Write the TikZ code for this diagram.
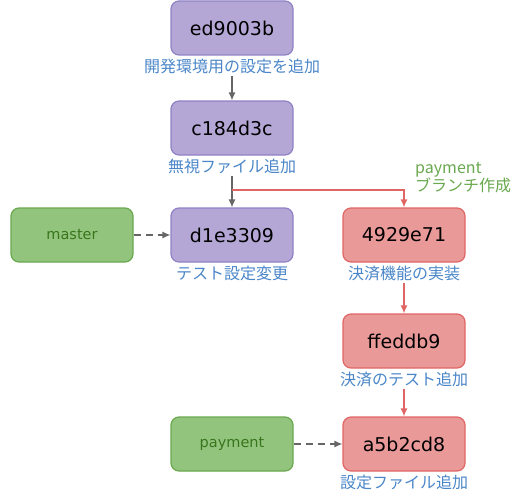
\documentclass[tikz,border=0pt]{standalone}
\usepackage{fontspec}
\usepackage{tikz}
\usetikzlibrary{arrows.meta}
\usetikzlibrary{positioning}
\newfontfamily\jpfont{Noto Sans CJK JP}
\newfontfamily\hashfont{DejaVu Sans}
\definecolor{commitfill}{HTML}{B4A7D6}
\definecolor{commitline}{HTML}{9081C4}
\definecolor{payfill}{HTML}{EA9999}
\definecolor{payline}{HTML}{E06666}
\definecolor{reffill}{HTML}{93C47D}
\definecolor{refline}{HTML}{6AA84F}
\definecolor{reftext}{HTML}{38761D}
\definecolor{msgtext}{HTML}{4A86C8}
\definecolor{flowgray}{HTML}{666666}
\tikzset{box/.style = {rounded corners = 8, minimum width = 122, minimum height = 54,
                       line width = 1.2, inner sep = 0}}
\tikzset{commit/.style = {box, draw = commitline, fill = commitfill,
                          font = \hashfont\fontsize{19}{21}\selectfont}}
\tikzset{paycommit/.style = {box, draw = payline, fill = payfill,
                             font = \hashfont\fontsize{19}{21}\selectfont}}
\tikzset{ref/.style = {box, draw = refline, fill = reffill, text = reftext,
                       font = \hashfont\fontsize{14.5}{16}\selectfont}}
\tikzset{msg/.style = {text = msgtext, inner sep = 2, font = \jpfont\fontsize{16}{18}\selectfont}}
\tikzset{flow/.style = {draw = flowgray, line width = 1.2, -{Latex[length = 8, width = 7]}}}
\tikzset{payflow/.style = {draw = payline, line width = 1.2, -{Latex[length = 8, width = 7]}}}
\tikzset{refflow/.style = {draw = flowgray, line width = 1.2, dash pattern = on 7 off 5,
                           -{Latex[length = 8, width = 7]}}}

\begin{document}
\begin{tikzpicture}[x = 1pt, y = -1pt]
    \useasboundingbox (0, 0) rectangle (519, 495);

    % master side
    \node [commit] (ed) at (232, 28) {ed9003b};
    \node [msg, below = 1pt of ed] (ed-msg) {開発環境用の設定を追加};
    \node [commit] (c1) at (232, 128) {c184d3c};
    \node [msg, below = 1pt of c1] (c1-msg) {無視ファイル追加};
    \node [commit] (d1) at (232, 235) {d1e3309};
    \node [msg, below = 1pt of d1] (d1-msg) {テスト設定変更};
    \node [ref] (master) at (72, 235) {master};

    % payment side
    \node [paycommit] (p1) at (404, 235) {4929e71};
    \node [msg, below = 1pt of p1] (p1-msg) {決済機能の実装};
    \node [paycommit] (p2) at (404, 341) {ffeddb9};
    \node [msg, below = 1pt of p2] (p2-msg) {決済のテスト追加};
    \node [paycommit] (p3) at (404, 444) {a5b2cd8};
    \node [msg, below = 1pt of p3] (p3-msg) {設定ファイル追加};
    \node [ref] (payment) at (232, 444) {payment};

    \node [text = refline, align = left, anchor = north west, inner sep = 0,
           font = \jpfont\fontsize{16}{18}\selectfont] (branch-msg) at (415, 162) {payment\\ブランチ作成};

    \draw [flow] (ed-msg) -- (c1);
    \draw [flow] (c1-msg) -- (d1);
    \coordinate (fork) at (232, 190);
    \draw [payflow] (fork) -| (p1);
    \draw [payflow] (p1-msg) -- (p2);
    \draw [payflow] (p2-msg) -- (p3);

    \draw [refflow] (master) -- (d1);
    \draw [refflow] (payment) -- (p3);
  \end{tikzpicture}
\end{document}
